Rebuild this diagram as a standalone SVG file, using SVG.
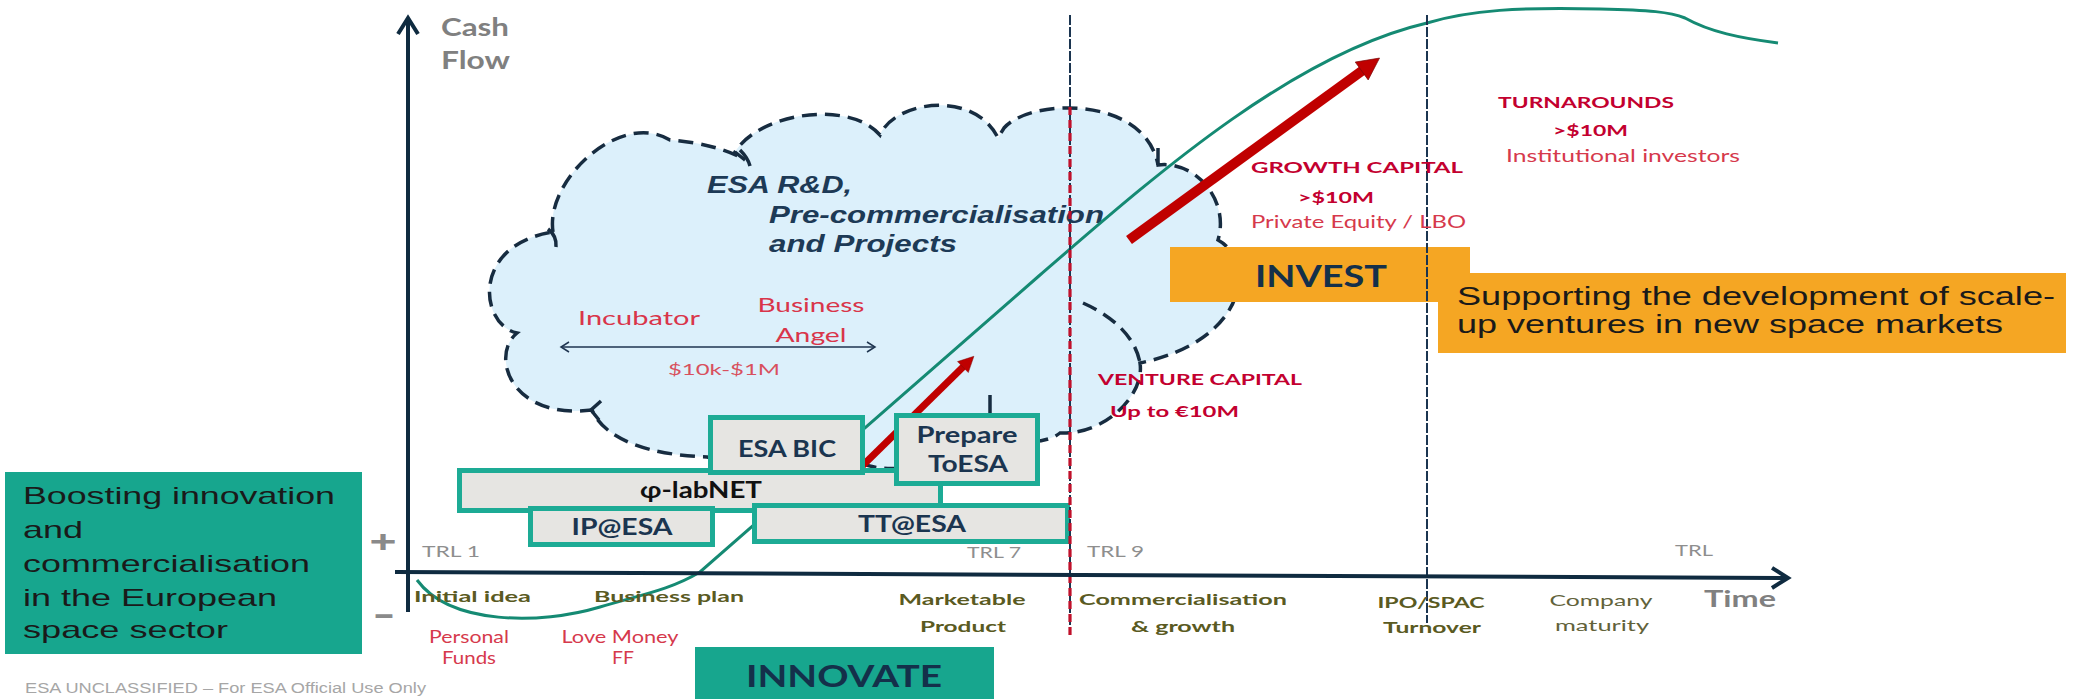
<svg xmlns="http://www.w3.org/2000/svg" width="2074" height="699" viewBox="0 0 2074 699">
<defs>
<style>
.cal{font-family:Lato,"Open Sans","Liberation Sans",sans-serif}
.ari{font-family:"Liberation Sans",Arial,sans-serif}
.b{font-weight:bold}
.gray{fill:#808080}
.trl{fill:#8e8e8e;font-size:15px}
.olive{fill:#5a5a22;font-size:16px;font-weight:bold}
.olivel{fill:#62623a;font-size:16px}
.redh{fill:#c3002f;font-size:16px;font-weight:bold}
.redl{fill:#d6394c;font-size:17px}
.box{fill:#e6e5e2;stroke:#1dab95;stroke-width:5}
.boxt{fill:#1b3550;font-size:22px;font-weight:bold}
.cloud{fill:#dcf0fb;stroke:#172c40;stroke-width:3.5;stroke-dasharray:15 8}
.cl{fill:none;stroke:#172c40;stroke-width:3.5}
.navy{fill:#1d3a56}
</style>
<marker id="chev" viewBox="-20 -12 24 24" refX="0" refY="0" markerWidth="24" markerHeight="24" markerUnits="userSpaceOnUse" orient="auto" overflow="visible"><path d="M-16,-10 L0,0 L-16,10" fill="none" stroke="#0f2b40" stroke-width="4"/></marker>
<marker id="chevS" viewBox="-10 -6 12 12" refX="0" refY="0" markerWidth="12" markerHeight="12" markerUnits="userSpaceOnUse" orient="auto-start-reverse" overflow="visible"><path d="M-8,-5 L0,0 L-8,5" fill="none" stroke="#1f3550" stroke-width="1.5"/></marker>
<marker id="redhead" viewBox="0 0 10 10" refX="1" refY="5" markerWidth="2.4" markerHeight="2.2" orient="auto" overflow="visible"><path d="M0,0 L10,5 L0,10 z" fill="#c00000" stroke="#7a0a0a" stroke-width="0.3"/></marker>
</defs>
<rect width="2074" height="699" fill="#ffffff"/>

<g id="cloud">
<path class="cloud" d="M553,232 C545,180 620,110 670,140 C700,142 730,150 745,160 L735,152 C760,112 850,100 880,135 C895,100 975,90 998,138 L1004,128 C1030,98 1145,95 1158,165 C1195,160 1230,200 1218,240 C1255,260 1250,340 1140,363 C1145,395 1105,435 1060,433 C1045,445 1010,445 990,430 C950,470 880,475 860,462 C820,475 760,470 707,457 C650,455 605,440 592,410 C510,420 490,355 517,333 C480,325 470,245 553,232 Z"/>
<path class="cl" d="M548,229 Q557,236 556,247"/>
<path class="cl" d="M601,401 L591,410 L599,420"/>
<path class="cl" d="M740,150 Q748,158 750,166"/>
<path class="cl" stroke-dasharray="15 8" d="M1083,303 C1110,315 1135,335 1140,363"/>
<path class="cl" d="M1158,148 L1158,165"/>
<path class="cl" d="M990,395 L990,413"/>
<text class="ari b navy" font-style="italic" font-size="24" x="707" y="193" textLength="145" lengthAdjust="spacingAndGlyphs">ESA R&amp;D,</text>
<text class="ari b navy" font-style="italic" font-size="24" x="769" y="223" textLength="335" lengthAdjust="spacingAndGlyphs">Pre-commercialisation</text>
<text class="ari b navy" font-style="italic" font-size="24" x="769" y="252" textLength="188" lengthAdjust="spacingAndGlyphs">and Projects</text>
<text class="cal" fill="#d9354a" font-size="20" x="578" y="325" textLength="122" lengthAdjust="spacingAndGlyphs">Incubator</text>
<text class="cal" fill="#d9354a" font-size="20" x="811" y="312" text-anchor="middle" textLength="107" lengthAdjust="spacingAndGlyphs">Business</text>
<text class="cal" fill="#d9354a" font-size="20" x="811" y="342" text-anchor="middle" textLength="71" lengthAdjust="spacingAndGlyphs">Angel</text>
<text class="cal" fill="#d8505e" font-size="16" x="668" y="375" textLength="112" lengthAdjust="spacingAndGlyphs">$10k-$1M</text>
</g>

<g id="connectors">
<path d="M417,580 C450,625 540,625 600,607 C640,595 670,590 700,572 L1040,275 C1150,180 1290,55 1427,23 C1470,10 1520,7 1600,9 C1650,10 1670,12 1685,18 C1710,32 1740,38 1778,43" fill="none" stroke="#158a73" stroke-width="3"/>
<line x1="850" y1="478" x2="964" y2="366" stroke="#c00000" stroke-width="7" marker-end="url(#redhead)"/>
<line x1="1129" y1="240" x2="1363.5" y2="69.7" stroke="#c00000" stroke-width="10" marker-end="url(#redhead)"/>
<line x1="561" y1="347" x2="875" y2="347" stroke="#1f3550" stroke-width="1.5" marker-start="url(#chevS)" marker-end="url(#chevS)"/>
</g>

<text class="cal trl" x="967" y="558" textLength="54" lengthAdjust="spacingAndGlyphs">TRL 7</text>

<g id="node-philabnet">
<rect class="box" x="459.5" y="470.5" width="481" height="40"/>
<text class="cal b" fill="#111111" font-size="22" x="701" y="498" text-anchor="middle" textLength="122" lengthAdjust="spacingAndGlyphs">φ-labNET</text>
</g>
<g id="node-esabic">
<rect class="box" x="710.5" y="417.5" width="152" height="55"/>
<text class="cal boxt" x="787" y="457" text-anchor="middle" textLength="98" lengthAdjust="spacingAndGlyphs">ESA BIC</text>
</g>
<g id="node-preparetoesa">
<rect class="box" x="896.5" y="415.5" width="141" height="68"/>
<text class="cal boxt" x="967" y="443" text-anchor="middle" textLength="101" lengthAdjust="spacingAndGlyphs">Prepare</text>
<text class="cal boxt" x="968" y="472" text-anchor="middle" textLength="80" lengthAdjust="spacingAndGlyphs">ToESA</text>
</g>
<g id="node-ipesa">
<rect class="box" x="530.5" y="508.5" width="182" height="36"/>
<text class="cal boxt" x="622" y="535" text-anchor="middle" textLength="101" lengthAdjust="spacingAndGlyphs">IP@ESA</text>
</g>
<g id="node-ttesa">
<rect class="box" x="754.5" y="505.5" width="313" height="36"/>
<text class="cal boxt" x="912" y="532" text-anchor="middle" textLength="108" lengthAdjust="spacingAndGlyphs">TT@ESA</text>
</g>

<g id="node-invest">
<rect x="1170" y="247" width="300" height="55" fill="#f5a623"/>
<text class="cal b" fill="#14304a" font-size="30" x="1255" y="287" textLength="132" lengthAdjust="spacingAndGlyphs">INVEST</text>
</g>
<g id="node-supporting">
<rect x="1438" y="273" width="628" height="80" fill="#f5a623"/>
<text class="ari" fill="#1a1a1a" font-size="25" x="1457" y="305" textLength="598" lengthAdjust="spacingAndGlyphs">Supporting the development of scale-</text>
<text class="ari" fill="#1a1a1a" font-size="25" x="1457" y="333" textLength="546" lengthAdjust="spacingAndGlyphs">up ventures in new space markets</text>
</g>
<g id="node-boosting">
<rect x="5" y="472" width="357" height="182" fill="#17a68e"/>
<text class="ari" fill="#1a1a1a" font-size="24" x="23" y="504" textLength="312" lengthAdjust="spacingAndGlyphs">Boosting innovation</text>
<text class="ari" fill="#1a1a1a" font-size="24" x="23" y="538" textLength="60" lengthAdjust="spacingAndGlyphs">and</text>
<text class="ari" fill="#1a1a1a" font-size="24" x="23" y="572" textLength="287" lengthAdjust="spacingAndGlyphs">commercialisation</text>
<text class="ari" fill="#1a1a1a" font-size="24" x="23" y="606" textLength="254" lengthAdjust="spacingAndGlyphs">in the European</text>
<text class="ari" fill="#1a1a1a" font-size="24" x="23" y="638" textLength="205" lengthAdjust="spacingAndGlyphs">space sector</text>
</g>
<g id="node-innovate">
<rect x="695" y="647" width="299" height="52" fill="#17a68e"/>
<text class="cal b" fill="#14304a" font-size="30" x="844" y="687" text-anchor="middle" textLength="196" lengthAdjust="spacingAndGlyphs">INNOVATE</text>
</g>

<g id="axes">
<line x1="1070" y1="15" x2="1070" y2="635" stroke="#1b3550" stroke-width="2" stroke-dasharray="10 2"/>
<line x1="1070" y1="107" x2="1070" y2="635" stroke="#c0102a" stroke-width="3.2" stroke-dasharray="8 5"/>
<line x1="1427" y1="15" x2="1427" y2="623" stroke="#1b3550" stroke-width="2" stroke-dasharray="10 2"/>
<line x1="408" y1="612" x2="408" y2="18" stroke="#0f2b40" stroke-width="4" marker-end="url(#chev)"/>
<line x1="395" y1="572" x2="1788" y2="578" stroke="#0f2b40" stroke-width="4" marker-end="url(#chev)"/>
</g>

<g id="labels">
<text class="cal b gray" font-size="24" x="441" y="36" textLength="68" lengthAdjust="spacingAndGlyphs">Cash</text>
<text class="cal b gray" font-size="24" x="441" y="69" textLength="69" lengthAdjust="spacingAndGlyphs">Flow</text>
<text class="cal b gray" font-size="22" x="1704" y="607" textLength="72" lengthAdjust="spacingAndGlyphs">Time</text>
<text class="ari b" fill="#8a8a8a" font-size="32" x="383" y="552" text-anchor="middle" textLength="27" lengthAdjust="spacingAndGlyphs">+</text>
<text class="ari b" fill="#8a8a8a" font-size="32" x="384" y="624" text-anchor="middle" textLength="22" lengthAdjust="spacingAndGlyphs">-</text>
<text class="cal trl" x="422" y="557" textLength="58" lengthAdjust="spacingAndGlyphs">TRL 1</text>
<text class="cal trl" x="1087" y="557" textLength="57" lengthAdjust="spacingAndGlyphs">TRL 9</text>
<text class="cal trl" x="1675" y="556" textLength="38" lengthAdjust="spacingAndGlyphs">TRL</text>
<text class="cal olive" x="414" y="602" textLength="117" lengthAdjust="spacingAndGlyphs">Initial idea</text>
<text class="cal olive" x="594" y="602" textLength="150" lengthAdjust="spacingAndGlyphs">Business plan</text>
<text class="cal olive" x="962" y="605" text-anchor="middle" textLength="127" lengthAdjust="spacingAndGlyphs">Marketable</text>
<text class="cal olive" x="963" y="632" text-anchor="middle" textLength="86" lengthAdjust="spacingAndGlyphs">Product</text>
<text class="cal olive" x="1183" y="605" text-anchor="middle" textLength="208" lengthAdjust="spacingAndGlyphs">Commercialisation</text>
<text class="cal olive" x="1183" y="632" text-anchor="middle" textLength="104" lengthAdjust="spacingAndGlyphs">&amp; growth</text>
<text class="cal olive" x="1431" y="608" text-anchor="middle" textLength="107" lengthAdjust="spacingAndGlyphs">IPO/SPAC</text>
<text class="cal olive" x="1432" y="633" text-anchor="middle" textLength="98" lengthAdjust="spacingAndGlyphs">Turnover</text>
<text class="cal olivel" x="1601" y="606" text-anchor="middle" textLength="103" lengthAdjust="spacingAndGlyphs">Company</text>
<text class="cal olivel" x="1602" y="631" text-anchor="middle" textLength="94" lengthAdjust="spacingAndGlyphs">maturity</text>
<text class="cal redl" x="469" y="643" text-anchor="middle" textLength="80" lengthAdjust="spacingAndGlyphs">Personal</text>
<text class="cal redl" x="469" y="664" text-anchor="middle" textLength="54" lengthAdjust="spacingAndGlyphs">Funds</text>
<text class="cal redl" x="620" y="643" text-anchor="middle" textLength="117" lengthAdjust="spacingAndGlyphs">Love Money</text>
<text class="cal redl" x="623" y="664" text-anchor="middle" textLength="22" lengthAdjust="spacingAndGlyphs">FF</text>
<text class="cal redh" x="1098" y="385" textLength="204" lengthAdjust="spacingAndGlyphs">VENTURE CAPITAL</text>
<text class="cal redh" x="1110" y="417" textLength="129" lengthAdjust="spacingAndGlyphs">Up to €10M</text>
<text class="cal redh" x="1251" y="173" textLength="212" lengthAdjust="spacingAndGlyphs">GROWTH CAPITAL</text>
<text class="cal redh" x="1298" y="203" textLength="76" lengthAdjust="spacingAndGlyphs">&gt;$10M</text>
<text class="cal redl" x="1251" y="228" textLength="215" lengthAdjust="spacingAndGlyphs">Private Equity / LBO</text>
<text class="cal redh" x="1498" y="108" textLength="176" lengthAdjust="spacingAndGlyphs">TURNAROUNDS</text>
<text class="cal redh" x="1553" y="136" textLength="75" lengthAdjust="spacingAndGlyphs">&gt;$10M</text>
<text class="cal redl" font-size="16" x="1506" y="162" textLength="234" lengthAdjust="spacingAndGlyphs">Institutional investors</text>
<text class="ari" fill="#a6a6a6" font-size="14" x="25" y="693" textLength="401" lengthAdjust="spacingAndGlyphs">ESA UNCLASSIFIED – For ESA Official Use Only</text>
</g>
</svg>
